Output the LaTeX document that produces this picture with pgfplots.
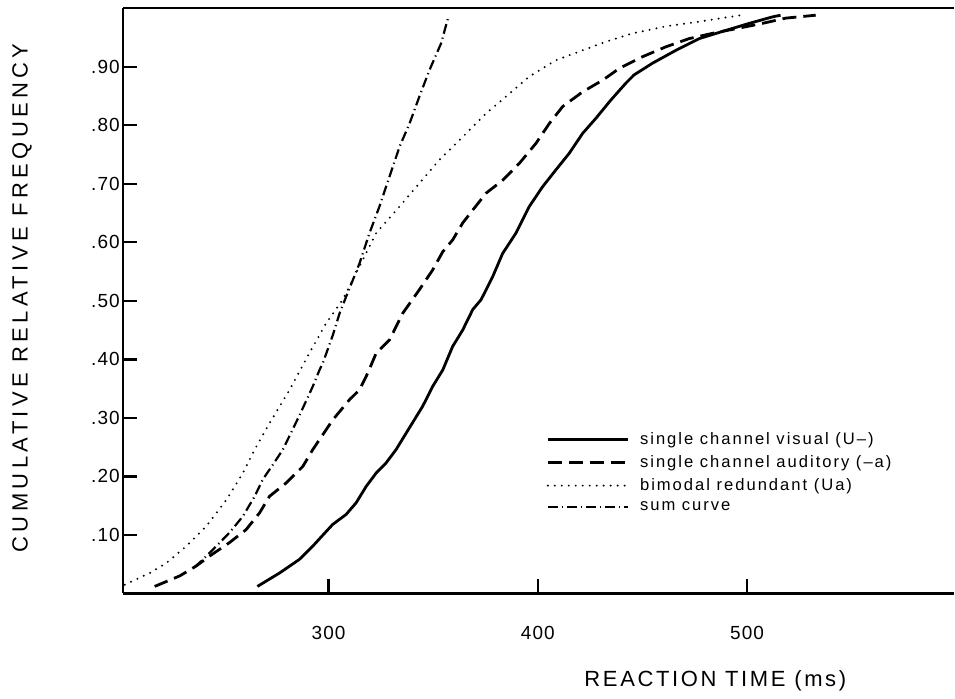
\documentclass[border=0pt]{standalone}
\usepackage{fontspec}
\setmainfont{Liberation Sans}
\newfontfamily\tickfont[LetterSpace=6]{Liberation Sans}
\newfontfamily\ylabfont[LetterSpace=20]{Liberation Sans}
\newfontfamily\xlabfont[LetterSpace=12]{Liberation Sans}
\newfontfamily\legfont[LetterSpace=12]{Liberation Sans}
\usepackage{pgfplots}
\pgfplotsset{compat=1.18}

\begin{document}
\begin{tikzpicture}
\begin{axis}[
  name=ax,
  scale only axis,
  width=416pt, height=293pt,
  xmin=201.7, xmax=598.8, ymin=0, ymax=1,
  axis x line*=box, axis y line*=left,
  axis line style={line width=1.2pt, -},
  xtick={300,400,500},
  xticklabels={300,400,500},
  ytick={0.1,0.2,0.3,0.4,0.5,0.6,0.7,0.8,0.9},
  yticklabels={.10,.20,.30,.40,.50,.60,.70,.80,.90},
  xtick pos=left, ytick pos=left,
  tick align=inside,
  major tick length=7pt,
  tick style={line width=1.2pt, black},
  ticklabel style={font=\tickfont\fontsize{9.5}{11}\selectfont},
  xticklabel style={yshift=-13pt},
  yticklabel style={xshift=2pt},
  xlabel={\xlabfont\fontsize{11}{13}\selectfont REACTION TIME (ms)},
  xlabel style={at={(axis description cs:0.713,-0.15)}, anchor=center},
  ylabel={\ylabfont\fontsize{11}{13}\selectfont CUMULATIVE RELATIVE FREQUENCY},
  ylabel style={at={(axis description cs:-0.1214,0.505)}, anchor=center},
  legend image code/.code={\draw[#1] (0pt,0pt) -- (40pt,0pt); \path (43.5pt,0pt);},
  legend style={draw=none, fill=none, at={(0.502,0.29)}, anchor=north west,
    font=\legfont\fontsize{8.3}{10}\selectfont, row sep=0pt},
  legend cell align=left,
]
\addplot[black, line width=1.4pt] coordinates {
(266,0.012) (276.6,0.035) (286,0.058) (292.5,0.081) (298.9,0.106) (302,0.118)
(308.4,0.135) (313.2,0.155) (318,0.183) (322.8,0.206) (327.5,0.223) (332.3,0.246)
(337.1,0.274) (345,0.32) (349.8,0.354) (354.6,0.382) (359.3,0.422) (364.1,0.45)
(368.9,0.485) (372.9,0.502) (378.4,0.541) (383.2,0.581) (389.6,0.616) (395.9,0.661)
(402.3,0.695) (408.7,0.724) (415,0.752) (421.4,0.786) (427.8,0.812) (434.9,0.843)
(442.1,0.872) (446,0.886) (454.8,0.906) (466,0.928) (477.1,0.948) (489.8,0.962)
(501,0.974) (512,0.985) (516,0.988)
};
\addlegendentry{single channel visual (U\textendash)}
\addplot[black, line width=1.4pt, dash pattern=on 7pt off 3.5pt] coordinates {
(216.9,0.012) (228.9,0.03) (236.8,0.047) (243.2,0.064) (252.7,0.087) (260.6,0.109)
(267.1,0.138) (271.8,0.166) (279.8,0.189) (287.7,0.217) (292.5,0.246) (295.7,0.263)
(302.1,0.297) (310,0.331) (314.8,0.348) (318.8,0.377) (322.8,0.411) (329.1,0.433)
(335.5,0.479) (343.4,0.519) (349.8,0.553) (354.6,0.584) (359.3,0.604) (364.1,0.633)
(368.9,0.655) (375.3,0.684) (383.2,0.706) (391.2,0.735) (399.1,0.769) (405.5,0.803)
(411.9,0.832) (421.4,0.857) (431,0.877) (438.9,0.897) (450,0.917) (461.2,0.934)
(472.3,0.948) (483.4,0.957) (496.2,0.966) (507.3,0.974) (518.5,0.983) (532.8,0.988)
};
\addlegendentry{single channel auditory (\textendash a)}
\addplot[black, line width=1.1pt, line cap=round, dash pattern=on 0pt off 3.5pt] coordinates {
(202.6,0.015) (214.6,0.035) (222.5,0.052) (232.1,0.081) (241.6,0.115) (251.2,0.16)
(259.1,0.206) (264.7,0.246) (271.8,0.291) (281.4,0.348) (290.9,0.411) (298.9,0.462)
(306.8,0.502) (314.8,0.559) (322.8,0.616) (333.9,0.661) (343.4,0.701) (353,0.741)
(364.1,0.78) (375.2,0.82) (384.8,0.849) (395.9,0.883) (408.6,0.911) (421.4,0.928)
(432,0.942) (445.3,0.957) (461.2,0.969) (477.1,0.977) (497,0.988)
};
\addlegendentry{bimodal redundant (Ua)}
\addplot[black, line width=1.1pt, dash pattern=on 5pt off 2pt on 0.6pt off 2pt] coordinates {
(236,0.045) (240,0.058) (246.4,0.081) (252.7,0.104) (259.1,0.132) (264.7,0.166)
(268.6,0.195) (273.4,0.22) (278.2,0.246) (286.2,0.305) (292.5,0.354) (295.7,0.382)
(297.3,0.394) (302.1,0.442) (305.3,0.479) (308.4,0.507) (314.8,0.564) (319.6,0.616)
(324.3,0.661) (329.1,0.712) (333.9,0.763) (338.7,0.803) (343.4,0.849) (348.2,0.894)
(353.8,0.94) (357,0.982)
};
\addlegendentry{sum curve}
\end{axis}
\path (ax.outer north east) ++(0,3.5pt);
\path (ax.south west) ++(-61.5pt,0);
\end{tikzpicture}
\end{document}
